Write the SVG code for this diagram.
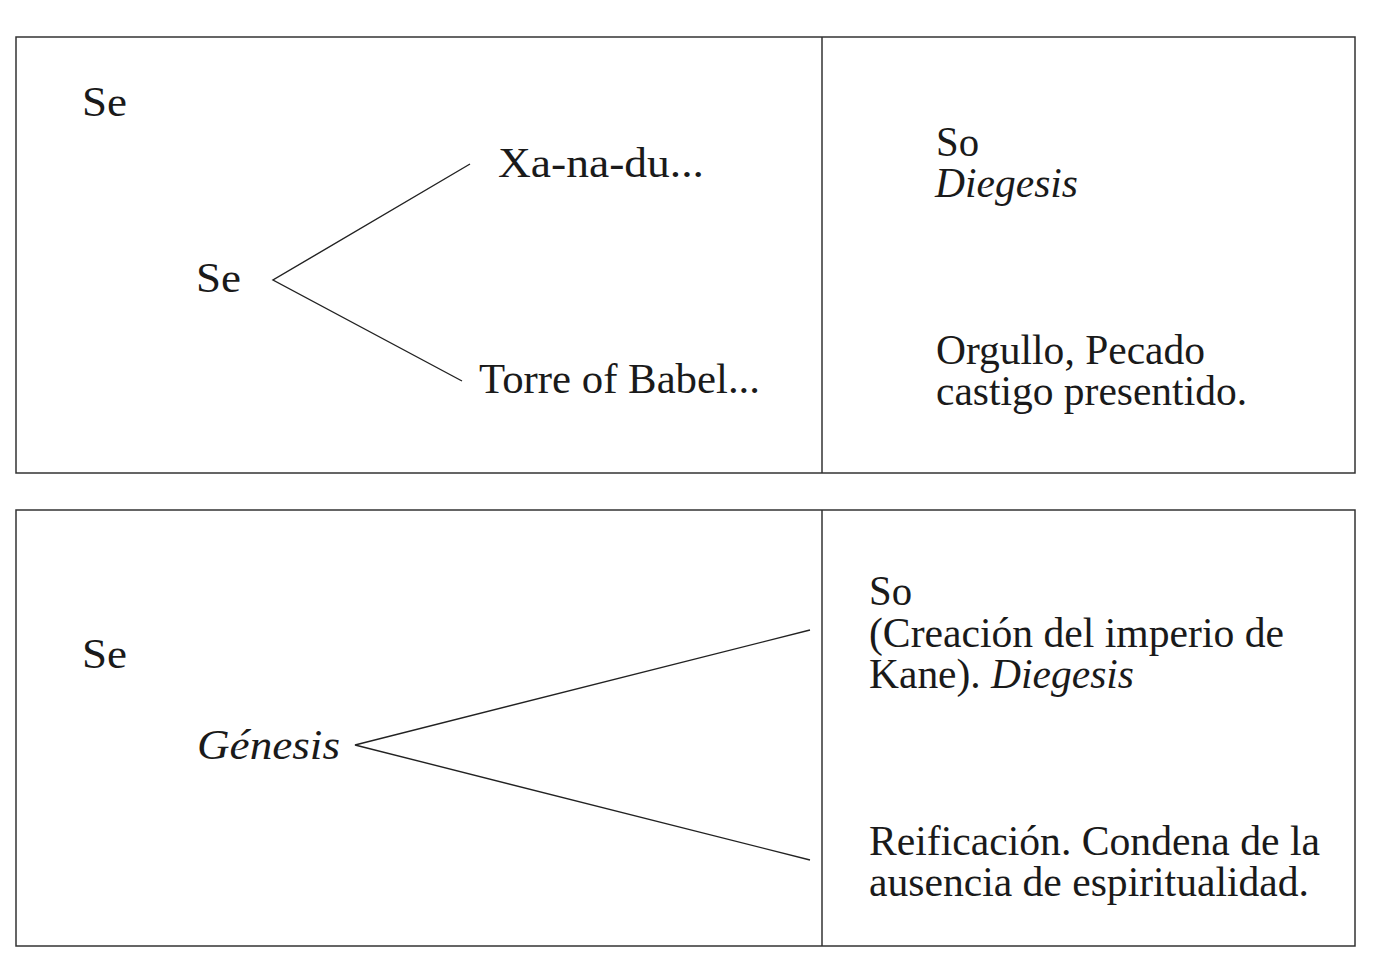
<svg xmlns="http://www.w3.org/2000/svg" width="1374" height="957" viewBox="0 0 1374 957">
<style>
.box{fill:none;stroke:#333;stroke-width:1.5}
.t{font-family:"Liberation Serif","Times New Roman",serif;font-size:42px;fill:#1a1a1a}
.i{font-style:italic}
.c{stroke:#222;stroke-width:1.4;fill:none}
</style>
<rect width="1374" height="957" fill="#fff"/>
<g id="panel-top">
<rect class="box" x="16" y="37" width="1339" height="436"/>
<line class="box" x1="822" y1="37" x2="822" y2="473"/>
</g>
<g id="panel-bottom">
<rect class="box" x="16" y="510" width="1339" height="436"/>
<line class="box" x1="822" y1="510" x2="822" y2="946"/>
</g>
<g id="n-se1"><text class="t" x="82" y="116" textLength="45" lengthAdjust="spacingAndGlyphs">Se</text></g>
<g id="n-se2"><text class="t" x="196" y="292" textLength="45" lengthAdjust="spacingAndGlyphs">Se</text></g>
<g id="n-xanadu"><text class="t" x="498" y="177" textLength="206" lengthAdjust="spacingAndGlyphs">Xa-na-du...</text></g>
<g id="n-torre"><text class="t" x="479" y="393" textLength="281" lengthAdjust="spacingAndGlyphs">Torre of Babel...</text></g>
<g id="n-so1"><text class="t" x="936" y="156" textLength="43" lengthAdjust="spacingAndGlyphs">So</text><text class="t i" x="935" y="197" textLength="143" lengthAdjust="spacingAndGlyphs">Diegesis</text></g>
<g id="n-orgullo"><text class="t" x="936" y="364" textLength="269" lengthAdjust="spacingAndGlyphs">Orgullo, Pecado</text><text class="t" x="936" y="405" textLength="311" lengthAdjust="spacingAndGlyphs">castigo presentido.</text></g>
<g id="n-se3"><text class="t" x="82" y="668" textLength="45" lengthAdjust="spacingAndGlyphs">Se</text></g>
<g id="n-genesis"><text class="t i" x="197" y="759" textLength="143" lengthAdjust="spacingAndGlyphs">Génesis</text></g>
<g id="n-so2"><text class="t" x="869" y="605" textLength="43" lengthAdjust="spacingAndGlyphs">So</text><text class="t" x="869" y="647" textLength="415" lengthAdjust="spacingAndGlyphs">(Creación del imperio de</text><text class="t" x="869" y="688" textLength="265" lengthAdjust="spacingAndGlyphs">Kane). <tspan class="i">Diegesis</tspan></text></g>
<g id="n-reif"><text class="t" x="869" y="855" textLength="451" lengthAdjust="spacingAndGlyphs">Reificación. Condena de la</text><text class="t" x="869" y="896" textLength="440" lengthAdjust="spacingAndGlyphs">ausencia de espiritualidad.</text></g>
<g id="connectors">
<polyline class="c" points="470,164 273,280 462,381"/>
<polyline class="c" points="810,630 355,745 810,860"/>
</g>
</svg>
